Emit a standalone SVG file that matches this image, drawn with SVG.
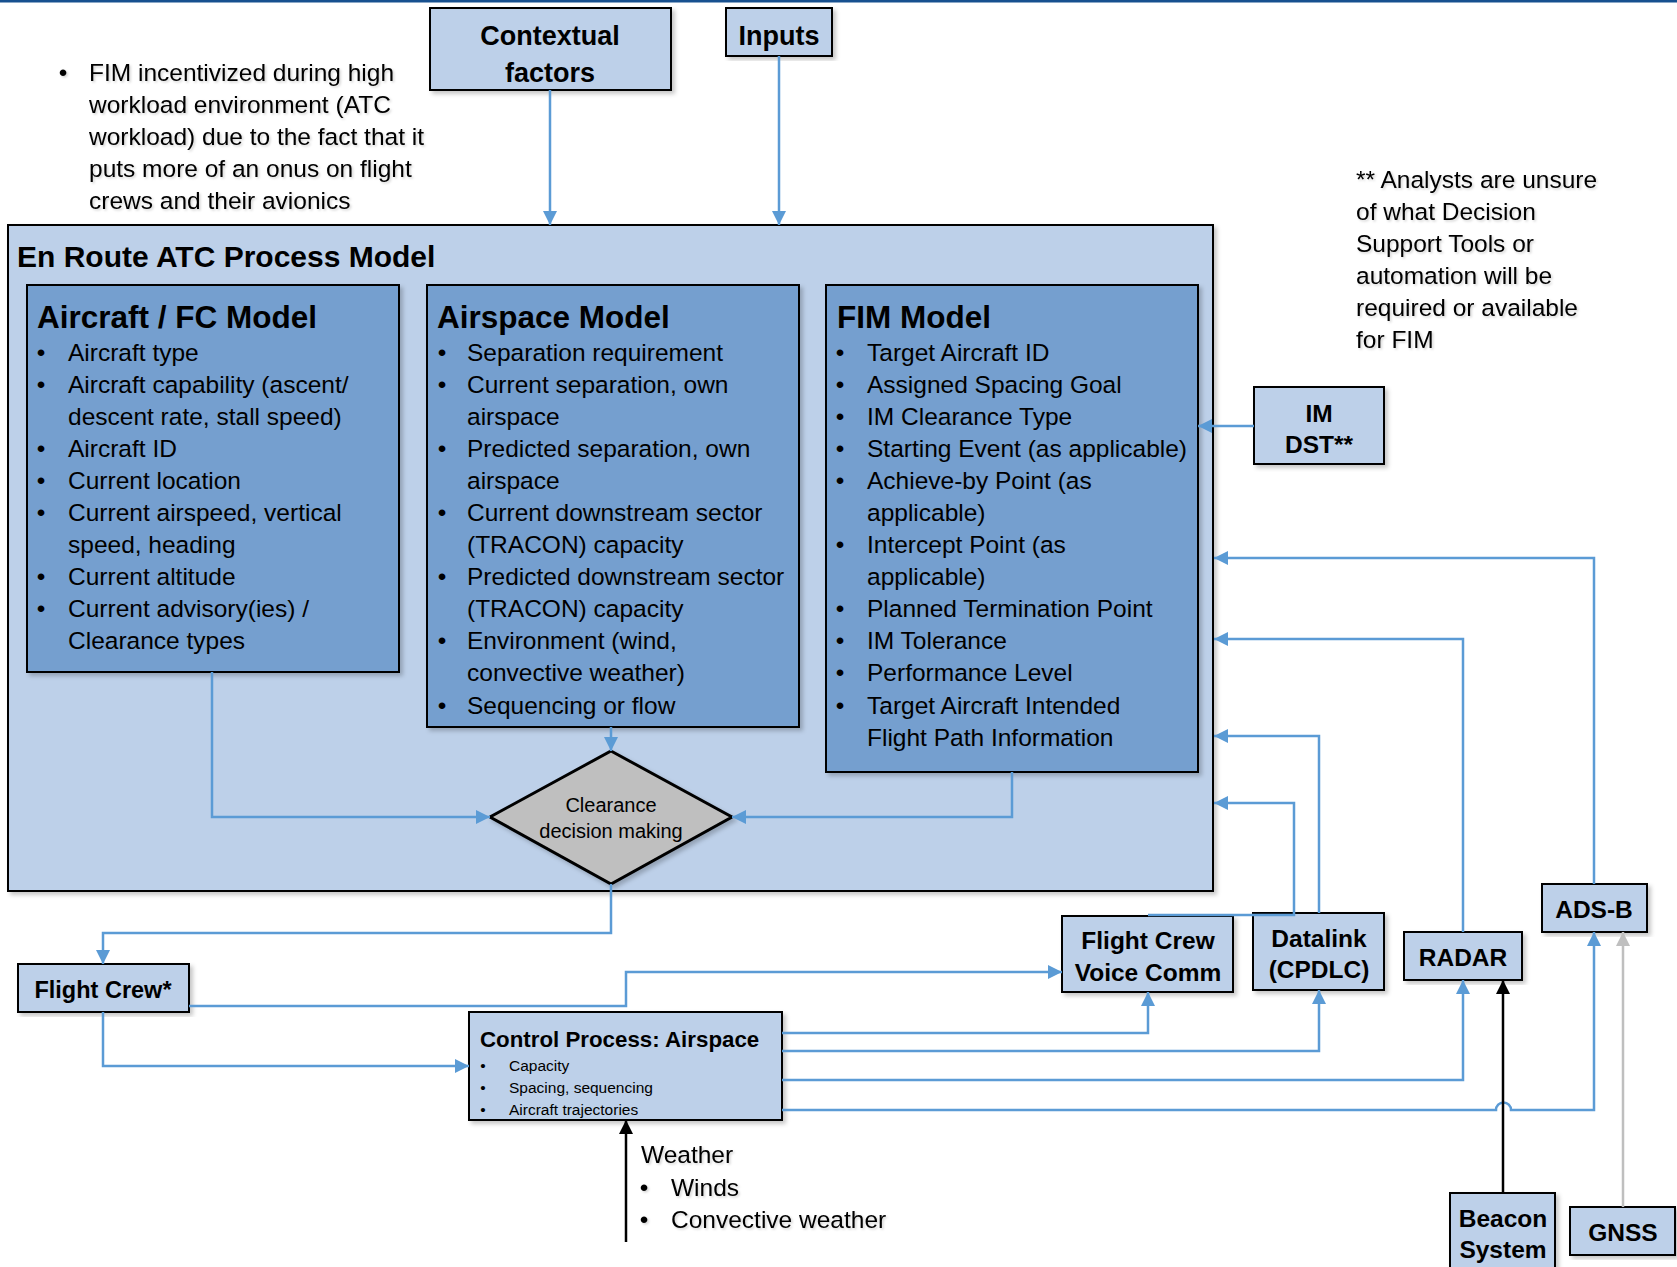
<svg xmlns="http://www.w3.org/2000/svg" width="1677" height="1267" viewBox="0 0 1677 1267">
  <defs>
    <style>
      text { font-family: "Liberation Sans", Arial, sans-serif; fill: #000; }
      .body { font-size: 24.5px; }
      .bold { font-weight: bold; }
      .title { font-size: 31.5px; font-weight: bold; }
      .lbl { font-size: 25px; font-weight: bold; text-anchor: middle; }
      .mid { text-anchor: middle; }
      .outer { fill: #BDD0E9; stroke: #000; stroke-width: 2; }
      .inner { fill: #759FCF; stroke: #000; stroke-width: 2; }
      .node { fill: #BDD0E9; stroke: #000; stroke-width: 2; }
      .link { fill: none; stroke: #5B9BD5; stroke-width: 2.5; marker-end: url(#arrowBlue); }
      .link-dark { fill: none; stroke: #000; stroke-width: 2.5; marker-end: url(#arrowBlack); }
      .link-grey { fill: none; stroke: #BFBFBF; stroke-width: 2.5; marker-end: url(#arrowGrey); }
      .shadow { filter: url(#boxShadow); }
      .tshadow { filter: url(#textShadow); }
    </style>
    <filter id="boxShadow" x="-5%" y="-5%" width="115%" height="115%">
      <feDropShadow dx="3" dy="3" stdDeviation="2" flood-color="#000" flood-opacity="0.22"/>
    </filter>
    <filter id="textShadow" x="-5%" y="-10%" width="115%" height="130%">
      <feDropShadow dx="1.5" dy="1.5" stdDeviation="1" flood-color="#000" flood-opacity="0.18"/>
    </filter>
    <marker id="arrowBlue" viewBox="0 0 14 14" refX="14" refY="7" markerWidth="14" markerHeight="14" markerUnits="userSpaceOnUse" orient="auto">
      <path d="M0,0 L14,7 L0,14 z" fill="#5B9BD5"/>
    </marker>
    <marker id="arrowBlack" viewBox="0 0 14 14" refX="14" refY="7" markerWidth="14" markerHeight="14" markerUnits="userSpaceOnUse" orient="auto">
      <path d="M0,0 L14,7 L0,14 z" fill="#000"/>
    </marker>
    <marker id="arrowGrey" viewBox="0 0 14 14" refX="14" refY="7" markerWidth="14" markerHeight="14" markerUnits="userSpaceOnUse" orient="auto">
      <path d="M0,0 L14,7 L0,14 z" fill="#BFBFBF"/>
    </marker>
  </defs>

  <rect width="1677" height="1267" fill="#fff"/>
  <!-- page header rule -->
  <rect x="0" y="0" width="1677" height="2.5" fill="#17508F"/>

  <!-- free-standing notes -->
  <g id="note-fim" class="body tshadow">
    <text x="63" y="81" class="mid">•</text>
    <text x="89" y="81">FIM incentivized during high</text>
    <text x="89" y="113">workload environment (ATC</text>
    <text x="89" y="145">workload) due to the fact that it</text>
    <text x="89" y="177">puts more of an onus on flight</text>
    <text x="89" y="209">crews and their avionics</text>
  </g>
  <g id="note-analysts" class="body tshadow">
    <text x="1356" y="188">** Analysts are unsure</text>
    <text x="1356" y="220">of what Decision</text>
    <text x="1356" y="252">Support Tools or</text>
    <text x="1356" y="284">automation will be</text>
    <text x="1356" y="316">required or available</text>
    <text x="1356" y="348">for FIM</text>
  </g>

  <!-- top inputs -->
  <g id="contextual-factors">
    <rect x="430" y="8" width="241" height="82" class="node shadow"/>
    <text x="550" y="45" class="lbl" style="font-size:27px">Contextual</text>
    <text x="550" y="82" class="lbl" style="font-size:27px">factors</text>
  </g>
  <g id="inputs">
    <rect x="726" y="8" width="106" height="48" class="node shadow"/>
    <text x="779" y="45" class="lbl" style="font-size:27px">Inputs</text>
  </g>

  <!-- process model container -->
  <g id="en-route-model">
    <rect x="8" y="225" width="1205" height="666" class="outer shadow"/>
    <text x="17" y="267" class="bold" style="font-size:30px">En Route ATC Process Model</text>
  </g>

  <g id="aircraft-fc-model">
    <rect x="27" y="285" width="372" height="387" class="inner shadow"/>
    <text x="37" y="328" class="title">Aircraft / FC Model</text>
    <g class="body">
      <text x="41" y="361" class="mid">•</text><text x="68" y="361">Aircraft type</text>
      <text x="41" y="393" class="mid">•</text><text x="68" y="393">Aircraft capability (ascent/</text>
      <text x="68" y="425">descent rate, stall speed)</text>
      <text x="41" y="457" class="mid">•</text><text x="68" y="457">Aircraft ID</text>
      <text x="41" y="489" class="mid">•</text><text x="68" y="489">Current location</text>
      <text x="41" y="521" class="mid">•</text><text x="68" y="521">Current airspeed, vertical</text>
      <text x="68" y="553">speed, heading</text>
      <text x="41" y="585" class="mid">•</text><text x="68" y="585">Current altitude</text>
      <text x="41" y="617" class="mid">•</text><text x="68" y="617">Current advisory(ies) /</text>
      <text x="68" y="649">Clearance types</text>
    </g>
  </g>

  <g id="airspace-model">
    <rect x="427" y="285" width="372" height="442" class="inner shadow"/>
    <text x="437" y="328" class="title">Airspace Model</text>
    <g class="body">
      <text x="442" y="361" class="mid">•</text><text x="467" y="361">Separation requirement</text>
      <text x="442" y="393" class="mid">•</text><text x="467" y="393">Current separation, own</text>
      <text x="467" y="425">airspace</text>
      <text x="442" y="457" class="mid">•</text><text x="467" y="457">Predicted separation, own</text>
      <text x="467" y="489">airspace</text>
      <text x="442" y="521" class="mid">•</text><text x="467" y="521">Current downstream sector</text>
      <text x="467" y="553">(TRACON) capacity</text>
      <text x="442" y="585" class="mid">•</text><text x="467" y="585">Predicted downstream sector</text>
      <text x="467" y="617">(TRACON) capacity</text>
      <text x="442" y="649" class="mid">•</text><text x="467" y="649">Environment (wind,</text>
      <text x="467" y="681">convective weather)</text>
      <text x="442" y="714" class="mid">•</text><text x="467" y="714">Sequencing or flow</text>
    </g>
  </g>

  <g id="fim-model">
    <rect x="826" y="285" width="372" height="487" class="inner shadow"/>
    <text x="837" y="328" class="title">FIM Model</text>
    <g class="body">
      <text x="840" y="361" class="mid">•</text><text x="867" y="361">Target Aircraft ID</text>
      <text x="840" y="393" class="mid">•</text><text x="867" y="393">Assigned Spacing Goal</text>
      <text x="840" y="425" class="mid">•</text><text x="867" y="425">IM Clearance Type</text>
      <text x="840" y="457" class="mid">•</text><text x="867" y="457">Starting Event (as applicable)</text>
      <text x="840" y="489" class="mid">•</text><text x="867" y="489">Achieve-by Point (as</text>
      <text x="867" y="521">applicable)</text>
      <text x="840" y="553" class="mid">•</text><text x="867" y="553">Intercept Point (as</text>
      <text x="867" y="585">applicable)</text>
      <text x="840" y="617" class="mid">•</text><text x="867" y="617">Planned Termination Point</text>
      <text x="840" y="649" class="mid">•</text><text x="867" y="649">IM Tolerance</text>
      <text x="840" y="681" class="mid">•</text><text x="867" y="681">Performance Level</text>
      <text x="840" y="714" class="mid">•</text><text x="867" y="714">Target Aircraft Intended</text>
      <text x="867" y="746">Flight Path Information</text>
    </g>
  </g>

  <g id="clearance-decision">
    <polygon points="611,751 732,817 611,884 490,817" fill="#BFBFBF" stroke="#000" stroke-width="3" class="shadow"/>
    <text x="611" y="812" class="mid" style="font-size:20px">Clearance</text>
    <text x="611" y="838" class="mid" style="font-size:20px">decision making</text>
  </g>

  <g id="im-dst">
    <rect x="1254" y="387" width="130" height="77" class="node shadow"/>
    <text x="1319" y="422" class="lbl" style="font-size:24.5px">IM</text>
    <text x="1319" y="453" class="lbl" style="font-size:24.5px">DST**</text>
  </g>

  <g id="flight-crew">
    <rect x="18" y="964" width="171" height="48" class="node shadow"/>
    <text x="103" y="998" class="lbl" style="font-size:23.5px">Flight Crew*</text>
  </g>

  <g id="control-process">
    <rect x="469" y="1012" width="313" height="108" class="node shadow"/>
    <text x="480" y="1047" class="bold" style="font-size:22.3px">Control Process: Airspace</text>
    <g style="font-size:15.5px">
      <text x="483" y="1071" class="mid">•</text><text x="509" y="1071">Capacity</text>
      <text x="483" y="1093" class="mid">•</text><text x="509" y="1093">Spacing, sequencing</text>
      <text x="483" y="1115" class="mid">•</text><text x="509" y="1115">Aircraft trajectories</text>
    </g>
  </g>

  <g id="voice-comm">
    <rect x="1062" y="916" width="171" height="76" class="node shadow"/>
    <text x="1148" y="949" class="lbl" style="font-size:24.5px">Flight Crew</text>
    <text x="1148" y="981" class="lbl" style="font-size:24.5px">Voice Comm</text>
  </g>

  <g id="datalink">
    <rect x="1253" y="913" width="131" height="77" class="node shadow"/>
    <text x="1319" y="947" class="lbl" style="font-size:24.5px">Datalink</text>
    <text x="1319" y="978" class="lbl" style="font-size:24.5px">(CPDLC)</text>
  </g>

  <g id="radar">
    <rect x="1404" y="932" width="118" height="48" class="node shadow"/>
    <text x="1463" y="966" class="lbl" style="font-size:24.5px">RADAR</text>
  </g>

  <g id="ads-b">
    <rect x="1542" y="884" width="105" height="48" class="node shadow"/>
    <text x="1594" y="918" class="lbl" style="font-size:24.5px">ADS-B</text>
  </g>

  <g id="beacon-system">
    <rect x="1450" y="1193" width="105" height="80" class="node shadow"/>
    <text x="1503" y="1227" class="lbl" style="font-size:24.5px">Beacon</text>
    <text x="1503" y="1258" class="lbl" style="font-size:24.5px">System</text>
  </g>

  <g id="gnss">
    <rect x="1570" y="1207" width="105" height="48" class="node shadow"/>
    <text x="1623" y="1241" class="lbl" style="font-size:24.5px">GNSS</text>
  </g>

  <g id="weather-note" class="body tshadow">
    <text x="641" y="1163">Weather</text>
    <text x="644" y="1196" class="mid">•</text><text x="671" y="1196">Winds</text>
    <text x="644" y="1228" class="mid">•</text><text x="671" y="1228">Convective weather</text>
  </g>

  <!-- connectors -->
  <g id="connectors">
    <path class="link" d="M550,90 V225"/>
    <path class="link" d="M779,56 V225"/>
    <path class="link" d="M1254,426 H1198"/>
    <path class="link" d="M1594,884 V558 H1214"/>
    <path class="link" d="M1463,932 V639 H1214"/>
    <path class="link" d="M1319,913 V736 H1214"/>
    <path class="link" d="M1148,915 H1294 V803 H1214"/>
    <path class="link" d="M611,727 V751"/>
    <path class="link" d="M212,672 V817 H490"/>
    <path class="link" d="M1012,772 V817 H732"/>
    <path class="link" d="M611,884 V933 H103 V964"/>
    <path class="link" d="M103,1012 V1066 H469"/>
    <path class="link" d="M189,1006 H626 V972 H1062"/>
    <path class="link" d="M782,1033 H1148 V992"/>
    <path class="link" d="M782,1051 H1319 V990"/>
    <path class="link" d="M782,1080 H1463 V980"/>
    <path class="link" d="M782,1110 H1496 A7.5,7.5 0 0 1 1511,1110 H1594 V932"/>
    <path class="link-dark" d="M1503,1193 V980"/>
    <path class="link-dark" d="M626,1242 V1120"/>
    <path class="link-grey" d="M1623,1207 V932"/>
  </g>
</svg>
